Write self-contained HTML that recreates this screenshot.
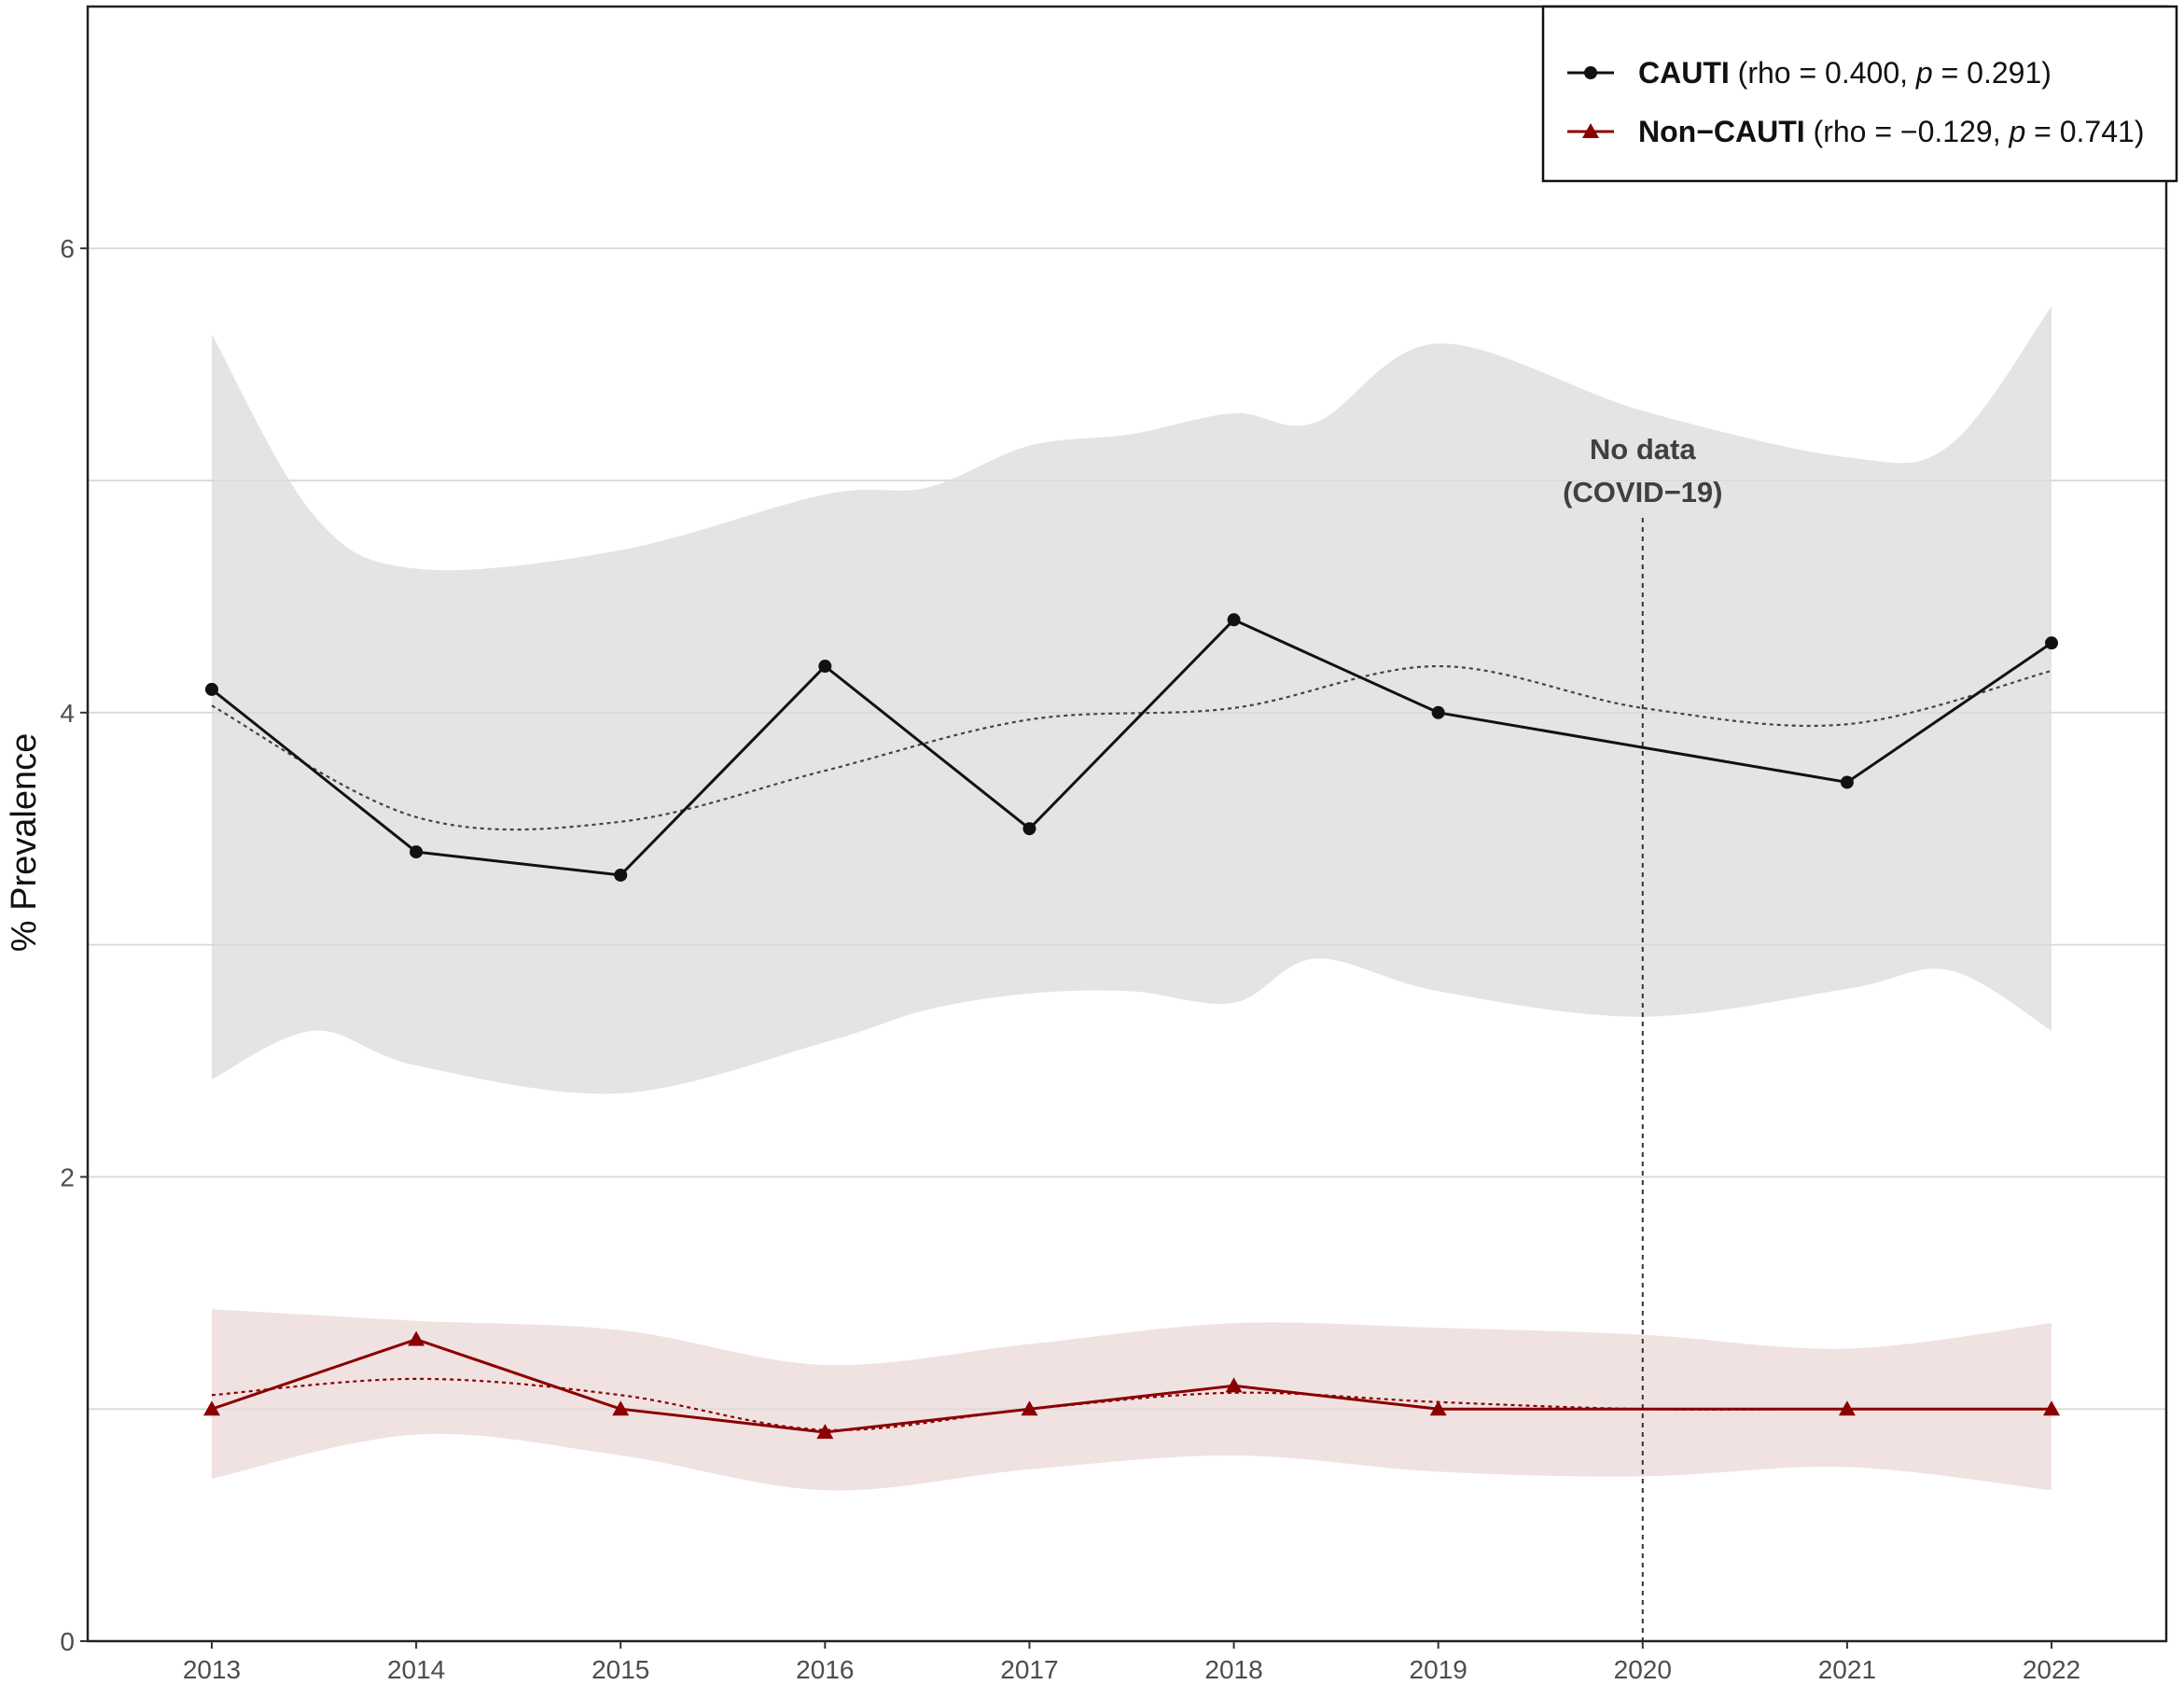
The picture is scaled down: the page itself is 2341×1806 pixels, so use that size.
<!DOCTYPE html>
<html><head><meta charset="utf-8"><style>
html,body{margin:0;padding:0;background:#fff;}
svg{display:block;font-family:"Liberation Sans",Arial,sans-serif;}
</style></head><body>
<svg id="chart" width="2341" height="1806" viewBox="0 0 2341 1806" xmlns="http://www.w3.org/2000/svg"></svg>
<script>
const years=[2013,2014,2015,2016,2017,2018,2019,2020,2021,2022];
const cautiYears=[2013,2014,2015,2016,2017,2018,2019,2021,2022];
const cautiValues=[4.1,3.4,3.3,4.2,3.5,4.4,4.0,3.7,4.3];
const nonCautiValues=[1.0,1.3,1.0,0.9,1.0,1.1,1.0,1.0,1.0];
const cautiTrend=[4.03,3.55,3.53,3.75,3.97,4.02,4.2,4.02,3.95,4.18];
const nonTrend=[1.06,1.13,1.06,0.91,1.0,1.07,1.03,1.0,1.0,1.0];
const ribbonX=[2013,2013.5,2014,2015,2016,2016.5,2017,2017.5,2018,2018.4,2019,2020,2021,2021.5,2022];
const cautiUpper=[5.63,4.85,4.62,4.7,4.94,4.97,5.15,5.2,5.29,5.25,5.59,5.3,5.1,5.15,5.75];
const cautiLower=[2.42,2.63,2.48,2.36,2.58,2.72,2.79,2.8,2.75,2.94,2.8,2.69,2.81,2.89,2.63];
const nonX=[2013,2014,2015,2016,2017,2018,2019,2020,2021,2022];
const nonUpper=[1.43,1.38,1.34,1.19,1.28,1.37,1.35,1.32,1.26,1.37];
const nonLower=[0.70,0.89,0.80,0.65,0.74,0.80,0.73,0.71,0.75,0.65];
const yTicks=[0,2,4,6];
const yGrid=[0,1,2,3,4,5,6];

const svg=document.getElementById('chart');
const NS='http://www.w3.org/2000/svg';
const L=94,R=2322,T=7,B=1759;
const X=v=>227+(v-2013)*(2199-227)/9;
const Y=v=>1759-v*248.8;
function el(t,a,p){const e=document.createElementNS(NS,t);for(const k in a)e.setAttribute(k,a[k]);(p||svg).appendChild(e);return e;}
function smooth(pts){let d='M'+pts[0][0]+','+pts[0][1];for(let i=0;i<pts.length-1;i++){const p0=pts[i-1]||pts[i],p1=pts[i],p2=pts[i+1],p3=pts[i+2]||p2;
d+=' C'+(p1[0]+(p2[0]-p0[0])/6)+','+(p1[1]+(p2[1]-p0[1])/6)+' '+(p2[0]-(p3[0]-p1[0])/6)+','+(p2[1]-(p3[1]-p1[1])/6)+' '+p2[0]+','+p2[1];}return d;}
function ribbon(xs,up,lo,fill,name){
 const u=xs.map((x,i)=>[X(x),Y(up[i])]);const l=xs.map((x,i)=>[X(x),Y(lo[i])]).reverse();
 const d=smooth(u)+' L'+l[0][0]+','+l[0][1]+smooth(l).slice(1).replace(/^[^C]*/,'')+' Z';
 const e=el('path',{d:d,fill:fill});
 
 
}
yGrid.forEach(v=>{const g=el('line',{x1:L,x2:R,y1:Y(v),y2:Y(v),stroke:'#e6e6e6','stroke-width':2});

});
ribbon(ribbonX,cautiUpper,cautiLower,'#e4e4e4','cauti-confidence-band');
ribbon(nonX,nonUpper,nonLower,'#f1e2e2','non-cauti-confidence-band');
yGrid.forEach(v=>{const g=el('line',{x1:L,x2:R,y1:Y(v),y2:Y(v),stroke:'#d2d2d2','stroke-width':1.5,opacity:0.6});

});
const cv=el('line',{x1:X(2020),x2:X(2020),y1:555,y2:B,stroke:'#333','stroke-width':2,'stroke-dasharray':'5,5'});


[['No data',492],['(COVID\u221219)',538]].forEach(([t,y])=>{const e=el('text',{x:X(2020),y:y,'text-anchor':'middle','font-size':31,'font-weight':'bold',fill:'#404040'});e.textContent=t;

});
function trend(vals,col,name){const e=el('path',{d:smooth(years.map((y,i)=>[X(y),Y(vals[i])])),fill:'none',stroke:col,'stroke-width':2.2,'stroke-dasharray':'4,4'});

}
trend(cautiTrend,'#444','cauti-trend-line');
trend(nonTrend,'#8b0000','non-cauti-trend-line');
function series(vals,col,name,shape){
 const pl=el('polyline',{points:cautiYears.map((y,i)=>X(y)+','+Y(vals[i])).join(' '),fill:'none',stroke:col,'stroke-width':3});
 
 
 cautiYears.forEach((y,i)=>{const cx=X(y),cy=Y(vals[i]);let m;
  if(shape==='c')m=el('circle',{cx:cx,cy:cy,r:7,fill:col});
  else m=el('polygon',{points:(cx)+','+(cy-9)+' '+(cx-9)+','+(cy+7)+' '+(cx+9)+','+(cy+7),fill:col});
  
  });
}
series(cautiValues,'#111','cauti','c');
series(nonCautiValues,'#8b0000','non-cauti','t');
const ax=el('path',{d:`M${L},${T} L${L},${B} L${R},${B} L${R},${T} Z`,fill:'none',stroke:'#222','stroke-width':2.5});


yTicks.forEach(v=>{el('line',{x1:L-8,x2:L,y1:Y(v),y2:Y(v),stroke:'#333','stroke-width':2});
const t=el('text',{x:L-14,y:Y(v)+10,'text-anchor':'end','font-size':28,fill:'#4d4d4d'});t.textContent=v;

});
years.forEach(y=>{el('line',{x1:X(y),x2:X(y),y1:B,y2:B+8,stroke:'#333','stroke-width':2});
const t=el('text',{x:X(y),y:B+40,'text-anchor':'middle','font-size':28,fill:'#4d4d4d'});t.textContent=y;

});
const yt=el('text',{x:0,y:0,'text-anchor':'middle','font-size':38,fill:'#111',transform:`translate(38,${(T+B)/2+20}) rotate(-90)`});yt.textContent='% Prevalence';


const lg=el('g',{});


el('rect',{x:1654,y:7,width:679,height:187,fill:'#fff',stroke:'#111','stroke-width':2.5},lg);
el('line',{x1:1680,x2:1730,y1:78,y2:78,stroke:'#111','stroke-width':3},lg);
el('circle',{cx:1705,cy:78,r:7,fill:'#111'},lg);
el('line',{x1:1680,x2:1730,y1:141,y2:141,stroke:'#8b0000','stroke-width':3},lg);
el('polygon',{points:'1705,132 1696,148 1714,148',fill:'#8b0000'},lg);
const l1=el('text',{x:1756,y:89,'font-size':32,fill:'#111'},lg);
l1.innerHTML='<tspan font-weight="bold">CAUTI</tspan> (rho = 0.400, <tspan font-style="italic">p</tspan> = 0.291)';


const l2=el('text',{x:1756,y:152,'font-size':32,fill:'#111'},lg);
l2.innerHTML='<tspan font-weight="bold">Non\u2212CAUTI</tspan> (rho = \u22120.129, <tspan font-style="italic">p</tspan> = 0.741)';


</script>
</body></html>
